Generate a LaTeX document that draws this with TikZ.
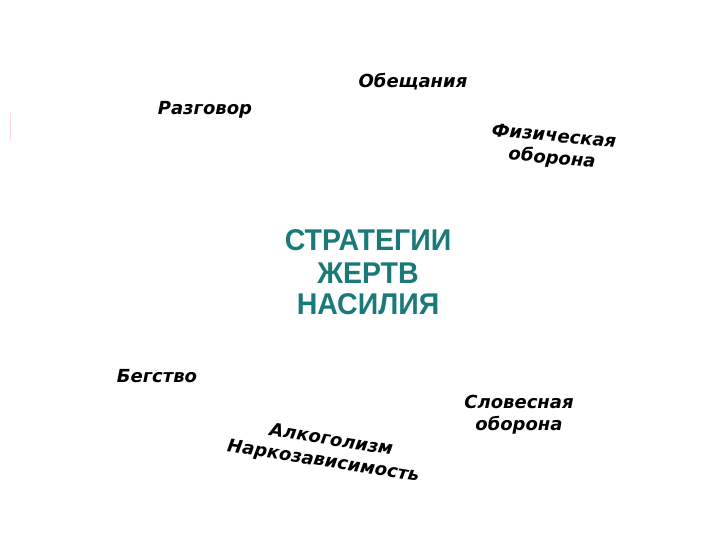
\documentclass[tikz,border=0pt]{standalone}
\usepackage{fontspec}
\setmainfont{DejaVu Sans}
\newfontfamily\arialf{Liberation Sans}
\definecolor{tealc}{HTML}{1A7A7A}
\begin{document}
\begin{tikzpicture}[x=1pt,y=-1pt,
  lbl/.style={font=\fontsize{18}{22}\selectfont\bfseries\itshape, text=black, align=center, inner sep=0pt},
  title/.style={font=\fontsize{30}{32}\selectfont\arialf\bfseries, text=tealc, align=center, inner sep=0pt, xscale=0.95}]
\useasboundingbox[fill=white] (0,0) rectangle (720,540);
\fill[red!15] (9.5,113) rectangle (11,140);
\node[title] (center) at (368,272) {СТРАТЕГИИ\\[1pt] ЖЕРТВ\\[-1pt]НАСИЛИЯ};
\node[lbl] (obeshch) at (413,82) {Обещания};
\node[lbl] (razgovor) at (205,110) {Разговор};
\node[lbl, rotate=-5] (fiz) at (553,148) {Физическая\\оборона};
\node[lbl] (begstvo) at (157,376) {Бегство};
\node[lbl, rotate=-9] (alko) at (325,451) {\hspace*{0.5em}Алкоголизм\\Наркозависимость};
\node[lbl] (slov) at (519,415) {Словесная\\оборона};
\end{tikzpicture}
\end{document}
